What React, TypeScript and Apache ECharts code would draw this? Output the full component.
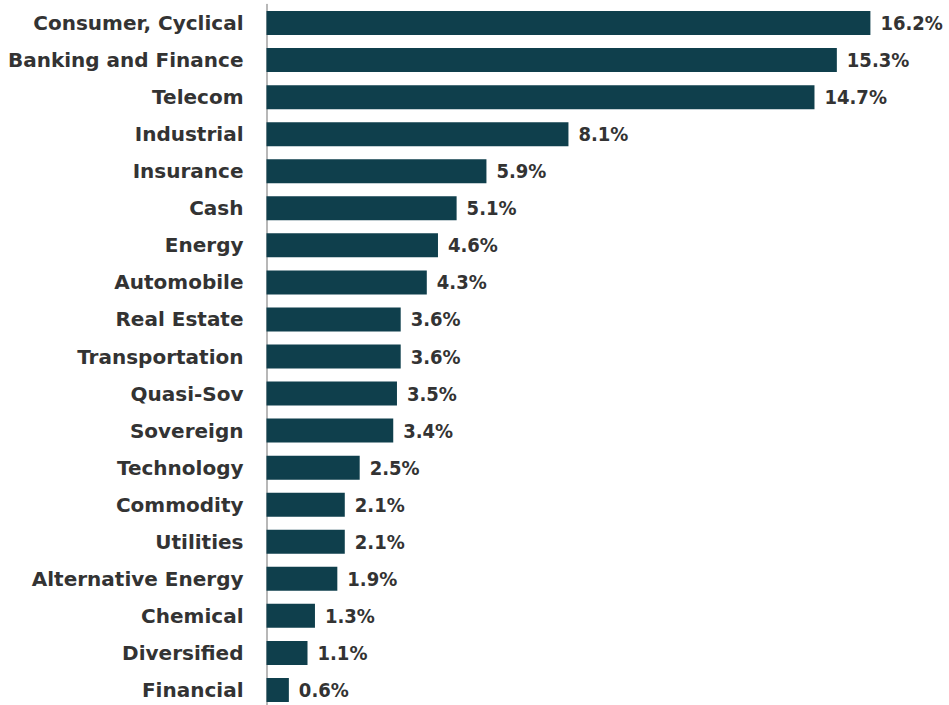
import React, { useEffect, useRef } from "react";
import * as echarts from "echarts";

const categories = [
  "Consumer, Cyclical",
  "Banking and Finance",
  "Telecom",
  "Industrial",
  "Insurance",
  "Cash",
  "Energy",
  "Automobile",
  "Real Estate",
  "Transportation",
  "Quasi-Sov",
  "Sovereign",
  "Technology",
  "Commodity",
  "Utilities",
  "Alternative Energy",
  "Chemical",
  "Diversified",
  "Financial",
];
const values = [16.2, 15.3, 14.7, 8.1, 5.9, 5.1, 4.6, 4.3, 3.6, 3.6, 3.5, 3.4, 2.5, 2.1, 2.1, 1.9, 1.3, 1.1, 0.6];

export default function App() {
  const ref = useRef<HTMLDivElement>(null);
  useEffect(() => {
    document.body.style.margin = "0";
    document.body.style.overflow = "hidden";
    const chart = echarts.init(ref.current!, null, { renderer: "svg" });
    chart.setOption({
      animation: false,
      grid: { left: 266.5, top: 4.5, width: 671, height: 704 },
      xAxis: {
        type: "value",
        min: 0,
        max: 18,
        show: false,
      },
      yAxis: {
        type: "category",
        data: categories,
        inverse: true,
        axisLine: { show: true, lineStyle: { color: "#a0a0a0", width: 1.5 } },
        axisTick: { show: false },
        axisLabel: {
          margin: 23,
          color: "#333333",
          fontSize: 20,
          fontWeight: "bold",
          fontFamily: "'DejaVu Sans', sans-serif",
        },
      },
      series: [
        {
          type: "bar",
          data: values,
          barWidth: 24,
          itemStyle: { color: "#0f3f4c" },
          label: {
            show: true,
            position: "right",
            distance: 10,
            formatter: (p: any) => p.value.toFixed(1) + "%",
            color: "#333333",
            fontSize: 20,
            fontWeight: "bold",
            fontFamily: "'DejaVu Sans Condensed', sans-serif",
          },
        },
      ],
    });
    return () => chart.dispose();
  }, []);
  return <div ref={ref} style={{ width: 949, height: 712 }} />;
}
